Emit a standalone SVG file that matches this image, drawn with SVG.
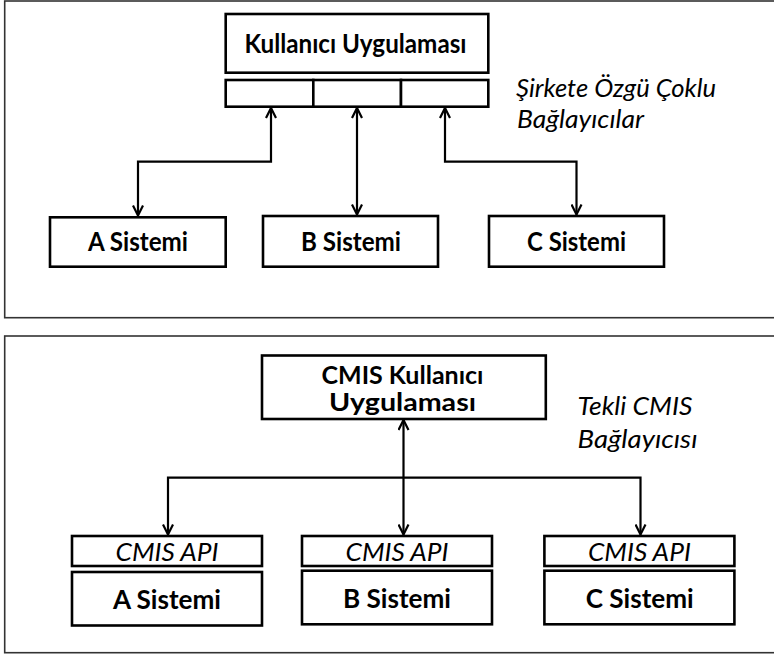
<svg xmlns="http://www.w3.org/2000/svg" width="774" height="655" viewBox="0 0 774 655">
<style>
.panel{fill:none;stroke:#333;stroke-width:1.6}
.box{fill:#fff;stroke:#000;stroke-width:2.6}
.b{font-family:Lato,"Liberation Sans",sans-serif;font-weight:bold;font-size:27px;fill:#000;text-anchor:middle}
.b2{font-family:Lato,"Liberation Sans",sans-serif;font-weight:bold;font-size:25px;fill:#000;text-anchor:middle}
.i{font-family:Lato,"Liberation Sans",sans-serif;font-style:italic;font-size:26px;fill:#000}
.ic{font-family:Lato,"Liberation Sans",sans-serif;font-style:italic;font-size:26px;fill:#000;text-anchor:middle}
.conn{fill:none;stroke:#000;stroke-width:2.2}
</style>
<defs>
<marker id="ah" viewBox="0 0 12 12" refX="11.5" refY="6" markerWidth="12" markerHeight="12" markerUnits="userSpaceOnUse" orient="auto-start-reverse">
<path d="M1.5,1 L11.5,6 L1.5,11" fill="none" stroke="#000" stroke-width="2.2"/>
</marker>
</defs>
<rect class="panel" x="4.7" y="1" width="800" height="316.7"/>
<rect class="panel" x="4.7" y="336" width="800" height="316.7"/>
<g id="top-app">
<rect class="box" x="225.7" y="14" width="262.6" height="58.7"/>
<text class="b" x="355.5" y="53" textLength="222" lengthAdjust="spacingAndGlyphs">Kullanıcı Uygulaması</text>
</g>
<g id="top-connectors-bar">
<rect class="box" x="225.7" y="80" width="87.6" height="26.7"/>
<rect class="box" x="313.3" y="80" width="87.7" height="26.7"/>
<rect class="box" x="401" y="80" width="87.3" height="26.7"/>
</g>
<g id="top-label">
<text class="i" x="516" y="97" textLength="200" lengthAdjust="spacingAndGlyphs">Şirkete Özgü Çoklu</text>
<text class="i" x="517" y="128" textLength="127" lengthAdjust="spacingAndGlyphs">Bağlayıcılar</text>
</g>
<g id="top-a">
<rect class="box" x="50" y="217.3" width="175.7" height="49.4"/>
<text class="b" x="138" y="251" textLength="100" lengthAdjust="spacingAndGlyphs">A Sistemi</text>
</g>
<g id="top-b">
<rect class="box" x="263" y="216" width="175" height="50.7"/>
<text class="b" x="351" y="250.5" textLength="100" lengthAdjust="spacingAndGlyphs">B Sistemi</text>
</g>
<g id="top-c">
<rect class="box" x="489" y="216" width="175" height="50.7"/>
<text class="b" x="576.5" y="250.5" textLength="99" lengthAdjust="spacingAndGlyphs">C Sistemi</text>
</g>
<g id="bottom-app">
<rect class="box" x="262" y="355.5" width="283.8" height="63.5"/>
<text class="b2" x="402.5" y="383.5" textLength="162" lengthAdjust="spacingAndGlyphs">CMIS Kullanıcı</text>
<text class="b2" x="402.5" y="411" textLength="147" lengthAdjust="spacingAndGlyphs">Uygulaması</text>
</g>
<g id="bottom-label">
<text class="i" x="577.5" y="415" textLength="115" lengthAdjust="spacingAndGlyphs">Tekli CMIS</text>
<text class="i" x="577.5" y="448" textLength="120" lengthAdjust="spacingAndGlyphs">Bağlayıcısı</text>
</g>
<g id="bottom-a">
<rect class="box" x="72" y="536" width="190" height="30"/>
<text class="ic" x="167" y="561" textLength="103" lengthAdjust="spacingAndGlyphs">CMIS API</text>
<rect class="box" x="72" y="572" width="190" height="53.5"/>
<text class="b" x="167" y="609" textLength="108" lengthAdjust="spacingAndGlyphs">A Sistemi</text>
</g>
<g id="bottom-b">
<rect class="box" x="302" y="536" width="190" height="30"/>
<text class="ic" x="397" y="561" textLength="103" lengthAdjust="spacingAndGlyphs">CMIS API</text>
<rect class="box" x="302" y="570.7" width="190" height="53.6"/>
<text class="b" x="397" y="608" textLength="108" lengthAdjust="spacingAndGlyphs">B Sistemi</text>
</g>
<g id="bottom-c">
<rect class="box" x="544.4" y="536" width="190" height="30"/>
<text class="ic" x="639.4" y="561" textLength="103" lengthAdjust="spacingAndGlyphs">CMIS API</text>
<rect class="box" x="544.4" y="570.7" width="190" height="53.6"/>
<text class="b" x="639.7" y="608" textLength="108" lengthAdjust="spacingAndGlyphs">C Sistemi</text>
</g>
<g id="connectors">
<path class="conn" d="M271,108 V161.7 H138 V215.5" marker-start="url(#ah)" marker-end="url(#ah)"/>
<path class="conn" d="M357,108 V214.5" marker-start="url(#ah)" marker-end="url(#ah)"/>
<path class="conn" d="M445,108 V161.7 H576.5 V214.5" marker-start="url(#ah)" marker-end="url(#ah)"/>
<path class="conn" d="M403.5,420 V534.5" marker-start="url(#ah)" marker-end="url(#ah)"/>
<path class="conn" d="M168,534.5 V477.7 H640.5 V534.5" marker-start="url(#ah)" marker-end="url(#ah)"/>
</g>
</svg>
